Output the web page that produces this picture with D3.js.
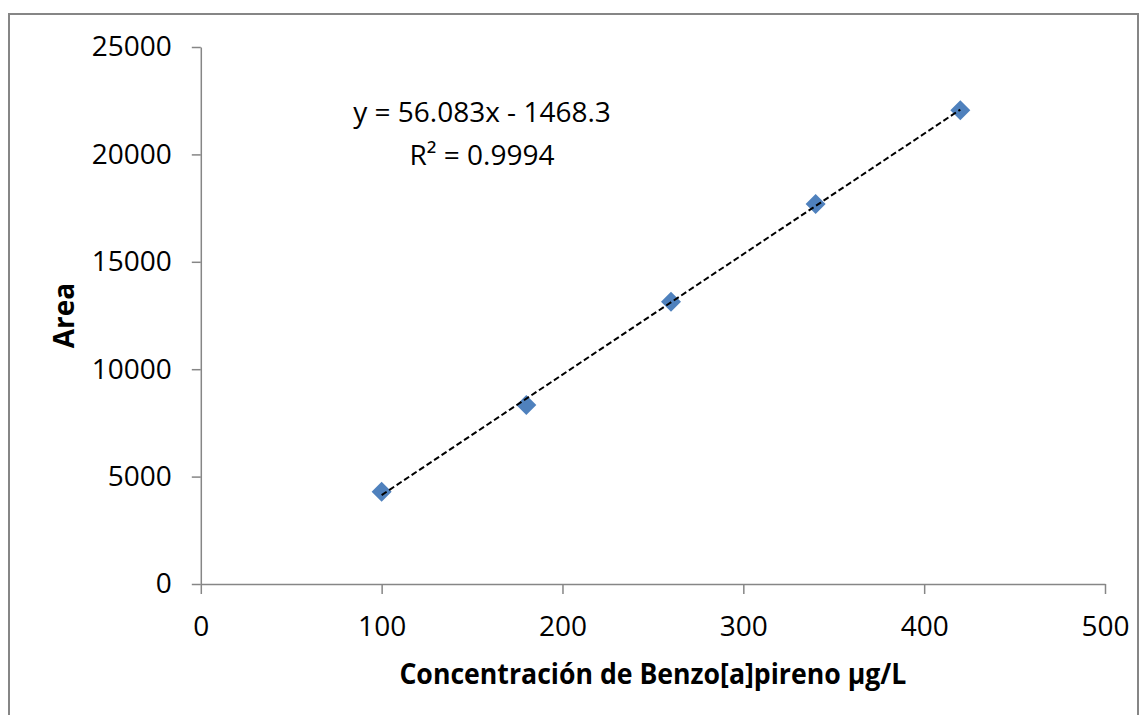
<!DOCTYPE html>
<html>
<head>
<meta charset="utf-8">
<script src="https://cdn.jsdelivr.net/npm/d3@7"></script>
<style>
  body { margin: 0; background: #fff; }
  svg text { font-family: "Open Sans", "Noto Sans", sans-serif; }
  .axis path, .axis line { stroke: #868686; stroke-width: 1.5; }
  .axis text { font-size: 28px; fill: #000; }
</style>
</head>
<body>
<svg id="chart" width="1148" height="715"></svg>
<script>
// calibration data
var concentracion = [100, 180, 260, 340, 420];
var area = [4300, 8330, 13140, 17690, 22050];
var xTicks = [0, 100, 200, 300, 400, 500];
var yTicks = [0, 5000, 10000, 15000, 20000, 25000];
// linear trendline as printed on the chart
var trend = [56.083, -1468.3];
var eqLines = ["y = 56.083x - 1468.3", "R\u00b2 = 0.9994"];

var svg = d3.select("#chart"),
  margin = {top: 47, right: 43, bottom: 131, left: 200.8},
  width = +svg.attr("width") - margin.left - margin.right,
  height = +svg.attr("height") - margin.top - margin.bottom;

// outer chart border
svg.append("rect")
  .attr("x", 9).attr("y", 14)
  .attr("width", 1129).attr("height", 720)
  .attr("fill", "none")
  .attr("stroke", "#868686")
  .attr("stroke-width", 2);

var g = svg.append("g").attr("transform", "translate(" + margin.left + "," + margin.top + ")");

var x = d3.scaleLinear().domain([0, 500]).range([0, width]);
var y = d3.scaleLinear().domain([0, 25000]).range([height, 0]);

g.append("g")
  .attr("class", "axis")
  .attr("transform", "translate(0," + height + ")")
  .call(d3.axisBottom(x).tickValues(xTicks).tickSize(10).tickSizeOuter(0).tickPadding(22).tickFormat(d3.format("d")));

g.append("g")
  .attr("class", "axis")
  .call(d3.axisLeft(y).tickValues(yTicks).tickSize(9).tickSizeOuter(0).tickPadding(20).tickFormat(d3.format("d")));

// markers
var diamond = d3.symbol().type(d3.symbolDiamond2).size(255);
g.selectAll(".pt")
  .data(concentracion)
  .enter().append("path")
    .attr("class", "pt")
    .attr("d", diamond)
    .attr("fill", "#4F81BD")
    .attr("transform", function(d, i) { return "translate(" + x(d) + "," + y(area[i]) + ")"; });

// trendline
var xr = d3.extent(concentracion);
var line = d3.line()
  .x(function(d) { return x(d); })
  .y(function(d) { return y(trend[0] * d + trend[1]); });

g.append("path")
  .datum(xr)
  .attr("fill", "none")
  .attr("stroke", "#000")
  .attr("stroke-width", 2)
  .attr("stroke-dasharray", "6,3")
  .attr("d", line);

// equation label
svg.selectAll(".eq")
  .data(eqLines)
  .enter().append("text")
    .attr("class", "eq")
    .attr("x", 482)
    .attr("y", function(d, i) { return 122 + i * 43; })
    .attr("text-anchor", "middle")
    .style("font-size", "28px")
    .text(function(d) { return d; });

// axis titles
svg.append("text")
  .attr("x", margin.left + width / 2)
  .attr("y", 684)
  .attr("text-anchor", "middle")
  .attr("textLength", 507)
  .attr("lengthAdjust", "spacingAndGlyphs")
  .style("font-size", "28px")
  .style("font-weight", "bold")
  .text("Concentración de Benzo[a]pireno µg/L");

svg.append("text")
  .attr("transform", "translate(74," + (margin.top + height / 2) + ") rotate(-90)")
  .attr("text-anchor", "middle")
  .style("font-size", "28px")
  .style("font-weight", "bold")
  .text("Area");
</script>
</body>
</html>
